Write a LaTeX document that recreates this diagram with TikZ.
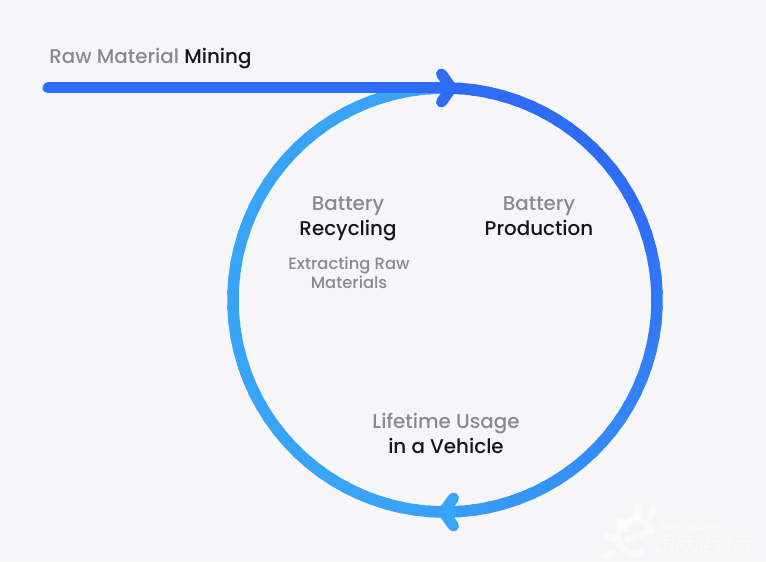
\documentclass[tikz,border=0pt]{standalone}
\usepackage{xcolor}
\usepackage{fontspec}
\setmainfont{Poppins}[BoldFont={Poppins Medium}]
\newfontfamily\cjkfont{Noto Sans CJK SC}
\usetikzlibrary{arrows.meta}
\definecolor{flowdark}{HTML}{2F6CF5}
\definecolor{flowlight}{HTML}{38A4F8}
\definecolor{labelgrey}{HTML}{8A8A8C}
\definecolor{labelblack}{HTML}{16161A}
\definecolor{pagegrey}{HTML}{F6F6F8}
\begin{document}
\begin{tikzpicture}[
    flowline/.style={line width=0.22cm, draw=flowdark}, % Same width as the ring
    flowtip/.style={-{Straight Barb[round, length=0.2cm, width=0.56cm, line width=0.22cm]}},
    ringpart/.style={line width=0.23cm},
    stagenode/.style={align=center, font=\fontsize{11.3}{14.2}\selectfont\bfseries, inner sep=0pt},
    notenode/.style={align=center, font=\fontsize{9.3}{10.8}\selectfont\bfseries, text=labelgrey, inner sep=0pt},
    logotext/.style={text=white, opacity=0.6, inner sep=0pt, xslant=0.2}
]
\useasboundingbox (0,0) rectangle (15.32,11.22);
\fill[pagegrey] (0,0) rectangle (15.32,11.22);

% Ring, colour runs clockwise from the top
\foreach \a in {90,86,...,-266} {
    \pgfmathsetmacro{\mix}{max(0,min(100,(\a+100)/1.3))}
    \draw[ringpart, draw=flowdark!\mix!flowlight] ([shift={(\a+0.6:4.24)}]8.9,5.22) arc (\a+0.6:\a-4.6:4.24);
}

\coordinate (minestart) at (0.96,9.46);
\coordinate (ringtop) at (9.14,9.46);
\coordinate (bottomfrom) at (9.1,0.98);
\coordinate (bottomtip) at (8.76,0.98);

\draw[flowline, line cap=round, flowtip] (minestart) -- (ringtop);
\draw[flowline, draw=flowlight, flowtip] (bottomfrom) -- (bottomtip);

\node[stagenode, anchor=west] (mining) at (0.98,10.05) {\textcolor{labelgrey}{Raw Material} \textcolor{labelblack}{Mining}};
\node[stagenode] (recycling) at (6.96,6.85) {\textcolor{labelgrey}{Battery}\\\textcolor{labelblack}{Recycling}};
\node[stagenode] (production) at (10.78,6.89) {\textcolor{labelgrey}{Battery}\\\textcolor{labelblack}{Production}};
\node[stagenode] (usage) at (8.92,2.56) {\textcolor{labelgrey}{Lifetime Usage}\\\textcolor{labelblack}{in a Vehicle}};
\node[notenode] (extracting) at (6.98,5.76) {Extracting Raw\\Materials};

% Watermark, bottom right
\foreach \px/\py/\rot in {12.76/0.98/90, 13.04/0.96/70, 12.46/0.72/130, 12.24/0.46/165, 12.16/0.12/195} {
    \fill[white, opacity=0.6] (\px,\py) ellipse[x radius=0.17, y radius=0.08, rotate=\rot];
}
\draw[white, opacity=0.6, line width=0.13cm] (12.5,0.42) -- (13.02,0.6) arc (20:300:0.34);
\node[logotext, anchor=west, font=\fontsize{6.4}{7}\selectfont\bfseries] (logolatin) at (13.2,0.68) {IN-EN.com};
\node[logotext, anchor=west, font=\fontsize{11}{12}\cjkfont] (logocjk) at (13.12,0.33) {国际能源网};
\end{tikzpicture}
\end{document}
